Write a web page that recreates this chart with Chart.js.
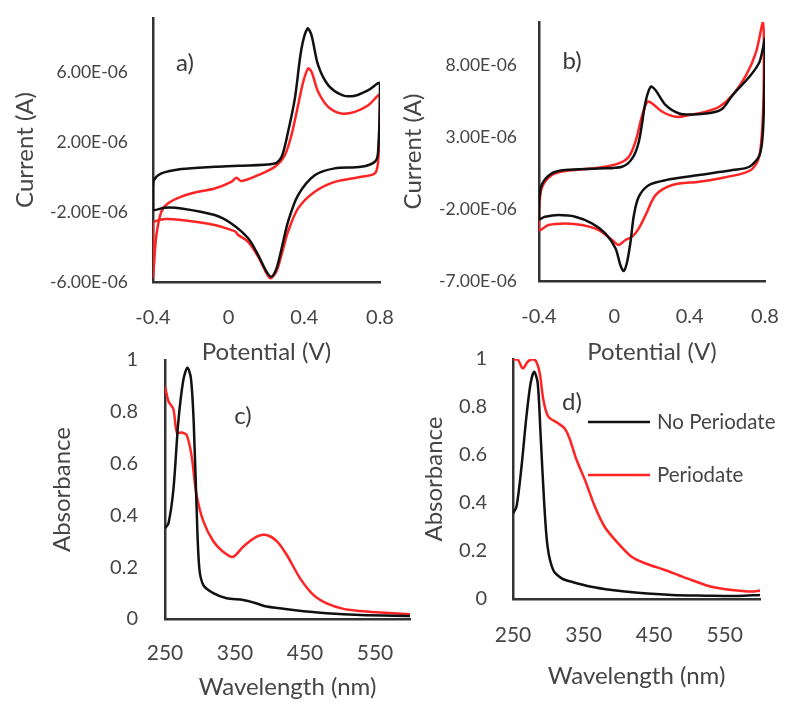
<!DOCTYPE html>
<html><head><meta charset="utf-8">
<script src="https://cdn.jsdelivr.net/npm/chart.js@4.4.1/dist/chart.umd.min.js"></script>
<style>
html,body{margin:0;padding:0;background:#fff;}
#wrap{position:relative;width:800px;height:718px;overflow:hidden;background:#fff;}
canvas{position:absolute;}
</style></head><body>
<div id="wrap">
<canvas id="ca" width="400" height="370" style="left:0;top:0"></canvas>
<canvas id="cb" width="400" height="370" style="left:400px;top:0"></canvas>
<canvas id="cc" width="420" height="378" style="left:0;top:340px"></canvas>
<canvas id="cd" width="400" height="378" style="left:400px;top:340px"></canvas>
</div>
<script>
// ---------------- DATA ----------------
const panelLabels = ['a)', 'b)', 'c)', 'd)'];
const seriesNames = ['No Periodate', 'Periodate'];
const cvXTicks = [-0.4, 0, 0.4, 0.8];
const aYTicks_uA = [-6, -2, 2, 6];
const bYTicks_uA = [-7, -2, 3, 8];
const uvXTicks = [250, 350, 450, 550];
const uvYTicks = [0, 0.2, 0.4, 0.6, 0.8, 1];

// Panel a (potential V, current in microamps)
const aBlackPot = [-0.4,-0.395,-0.356,-0.25,-0.074,0.05,0.244,0.28,0.314,0.35,0.385,0.417,0.438,0.473,0.526,0.6,0.667,0.738,0.8,
  0.79,0.773,0.70,0.56,0.455,0.367,0.314,0.28,0.253,0.226,0.2,0.156,0.103,0.014,-0.074,-0.25,-0.338,-0.4,-0.4];
const aBlackCur = [-0.55,-0.17,0.21,0.46,0.59,0.65,0.78,1.16,2.59,4.5,7.35,8.5,8.11,6.4,5.26,4.69,4.65,4.97,5.35,
  1.45,0.88,0.59,0.5,0.11,-1.03,-2.55,-4.08,-5.22,-5.7,-5.41,-4.46,-3.5,-2.65,-2.17,-1.79,-1.75,-1.85,-0.55];
const aRedPot = [-0.4,-0.395,-0.382,-0.356,-0.32,-0.25,-0.162,-0.074,0.014,0.041,0.067,0.156,0.244,0.297,0.332,0.367,0.394,0.42,0.438,0.473,0.526,0.596,0.667,0.738,0.8,
  0.796,0.79,0.773,0.702,0.561,0.455,0.367,0.314,0.279,0.252,0.221,0.2,0.156,0.103,0.05,0.036,0.014,-0.074,-0.25,-0.338,-0.4,-0.4];
const aRedCur = [-5.79,-5.03,-3.31,-1.98,-1.5,-1.12,-0.84,-0.65,-0.27,-0.04,-0.23,0.11,0.59,1.26,2.4,4.11,5.45,6.21,6.02,4.88,4.02,3.64,3.73,4.11,4.69,
  2.59,0.88,0.21,0.02,-0.27,-0.84,-1.79,-3.12,-4.46,-5.41,-5.79,-5.5,-4.55,-3.7,-3.31,-3.12,-3.03,-2.74,-2.46,-2.4,-2.65,-5.79];

// Panel b
const bBlackPot = [-0.4,-0.386,-0.332,-0.261,-0.083,0.041,0.095,0.13,0.166,0.193,0.219,0.273,0.344,0.415,0.522,0.575,0.628,0.717,0.771,0.801,
  0.797,0.789,0.771,0.717,0.628,0.45,0.273,0.184,0.13,0.104,0.086,0.068,0.05,0.032,0.006,-0.048,-0.119,-0.208,-0.297,-0.368,-0.4,-0.4];
const bBlackCur = [-1.49,-0.33,0.48,0.71,0.82,0.94,1.52,2.68,5.45,6.5,6.26,5.22,4.64,4.57,4.71,4.99,5.92,7.19,8.23,9.85,
  6.84,3.37,1.75,0.94,0.71,0.36,0.01,-0.33,-1.14,-2.42,-4.27,-5.66,-6.31,-5.89,-4.73,-3.69,-2.99,-2.53,-2.42,-2.53,-2.69,-1.49];
const bRedPot = [-0.4,-0.386,-0.332,-0.261,-0.083,0.023,0.077,0.112,0.148,0.175,0.201,0.255,0.326,0.397,0.486,0.557,0.628,0.7,0.753,0.789,
  0.794,0.789,0.771,0.735,0.682,0.557,0.45,0.308,0.219,0.166,0.13,0.095,0.059,0.023,-0.012,-0.083,-0.172,-0.261,-0.35,-0.4,-0.4];
const bRedCur = [-2.19,-0.56,0.36,0.64,0.87,1.17,1.63,2.68,4.53,5.45,5.34,4.76,4.41,4.53,4.76,5.11,5.92,7.31,8.93,10.96,
  8.0,4.53,1.75,0.82,0.48,0.13,-0.1,-0.33,-1.03,-2.42,-3.34,-3.92,-4.15,-4.5,-4.15,-3.46,-3.11,-3.0,-3.11,-3.46,-2.19];

// Panel c (wavelength nm, absorbance)
const cBlackNm  = [250,255,262,269,276,282,287,291,295,299,305,319,338,362,381,395,433,481,529,600];
const cBlackAbs = [0.35,0.37,0.5,0.76,0.92,0.97,0.93,0.76,0.44,0.196,0.13,0.1,0.08,0.073,0.06,0.048,0.035,0.022,0.015,0.012];
const cRedNm  = [250,255,262,267,274,281,288,295,305,319,333,347,362,381,395,410,424,443,462,481,505,529,552,576,600];
const cRedAbs = [0.90,0.84,0.81,0.72,0.72,0.71,0.63,0.48,0.376,0.30,0.26,0.24,0.28,0.318,0.324,0.30,0.247,0.157,0.093,0.06,0.039,0.031,0.026,0.022,0.018];

// Panel d
const dBlackNm  = [250,255,262,269,275,280,285,289,294,299,307,319,333,361,390,427,475,522,569,600];
const dBlackAbs = [0.357,0.385,0.55,0.76,0.9,0.947,0.9,0.69,0.41,0.218,0.121,0.086,0.072,0.051,0.0375,0.026,0.0167,0.014,0.0125,0.0167];
const dRedNm  = [250,257,264,271,278,283,288,293,300,314,323,330,340,352,366,380,399,418,437,465,484,503,531,560,588,600];
const dRedAbs = [1.0,0.996,0.961,0.989,0.999,0.989,0.94,0.83,0.76,0.732,0.711,0.67,0.58,0.496,0.385,0.30,0.232,0.176,0.149,0.121,0.10,0.079,0.051,0.0375,0.031,0.035];

// ---------------- RENDERING ----------------
const FONT = 'Lato';
const TXT = '#454545';
const AXIS = '#333333';
const BLACK = '#111111';
const RED = '#ff2424';
const MICRO = 1e-6;
Chart.defaults.font.family = FONT;

function expFmt(v) {
  const s = Number(v).toExponential(2).split('e');
  const n = parseInt(s[1], 10);
  return s[0] + 'E' + (n < 0 ? '-' : '+') + String(Math.abs(n)).padStart(2, '0');
}
function cvFmt(v) { return Math.abs(v) < 1e-9 ? '0' : Number(v).toFixed(1); }
function plainFmt(v) { return String(Math.round(v * 1000) / 1000); }

const overlayPlugin = {
  id: 'overlay',
  afterDraw(chart, args, opts) {
    const ctx = chart.ctx;
    ctx.save();
    if (opts.label) {
      ctx.font = '24px ' + FONT;
      ctx.fillStyle = '#3a3a3a';
      ctx.textAlign = 'center';
      ctx.textBaseline = 'middle';
      ctx.fillText(opts.label.text, opts.label.x, opts.label.y);
    }
    if (opts.legend) {
      const L = opts.legend;
      chart.data.datasets.forEach((ds, i) => {
        const y = L.ys[i];
        ctx.strokeStyle = ds.borderColor;
        ctx.lineWidth = 2.5;
        ctx.beginPath(); ctx.moveTo(L.x1, y); ctx.lineTo(L.x2, y); ctx.stroke();
        ctx.font = '20.5px ' + FONT;
        ctx.fillStyle = TXT;
        ctx.textAlign = 'left';
        ctx.textBaseline = 'middle';
        ctx.fillText(ds.label, L.tx, y);
      });
    }
    ctx.restore();
  }
};

function series(label, xs, ys, color, mul) {
  return {
    label: label,
    data: xs.map((x, i) => ({x: x, y: ys[i] * (mul || 1)})),
    showLine: true, borderColor: color, backgroundColor: color,
    borderWidth: 2.5, pointRadius: 0, pointHoverRadius: 0, tension: 0.3, fill: false
  };
}

function build(id, o) {
  return new Chart(document.getElementById(id), {
    type: 'scatter',
    data: {datasets: o.datasets},
    options: {
      responsive: false, animation: false, devicePixelRatio: 1, events: [],
      layout: {padding: o.pad},
      plugins: {legend: {display: false}, tooltip: {enabled: false}, overlay: o.overlay},
      scales: {
        x: {
          type: 'linear', min: o.xMin, max: o.xMax,
          grid: {display: false, drawTicks: false},
          border: {display: true, color: AXIS, width: 2.5},
          ticks: {padding: o.xTickPad, color: TXT, font: {family: FONT, size: o.xTickSize}, callback: o.xFmt, maxRotation: 0, autoSkip: false},
          afterBuildTicks: s => { s.ticks = o.xTicks.map(v => ({value: v})); },
          afterFit: s => { s.height = o.xH; s.paddingLeft = 0; s.paddingRight = 0; s.paddingTop = 0; s.paddingBottom = 0; },
          title: {display: true, text: o.xTitle, color: TXT, font: {family: FONT, size: 24, lineHeight: 1}, padding: {top: 0, bottom: o.xTitlePad}}
        },
        y: {
          type: 'linear', min: o.yMin, max: o.yMax,
          grid: {display: false, drawTicks: false},
          border: {display: true, color: AXIS, width: 2.5},
          ticks: {padding: o.yTickPad, color: TXT, font: {family: FONT, size: o.yTickSize}, callback: o.yFmt, autoSkip: false},
          afterBuildTicks: s => { s.ticks = o.yTicks.map(v => ({value: v})); },
          afterFit: s => { s.width = o.yW; s.paddingLeft = 0; s.paddingRight = 0; s.paddingTop = 0; s.paddingBottom = 0; },
          title: {display: true, text: o.yTitle, color: TXT, font: {family: FONT, size: 24, lineHeight: 1}, padding: {top: o.yTitlePad, bottom: 0}}
        }
      }
    },
    plugins: [overlayPlugin]
  });
}

// Panel a
build('ca', {
  datasets: [series(seriesNames[0], aBlackPot, aBlackCur, BLACK, MICRO), series(seriesNames[1], aRedPot, aRedCur, RED, MICRO)],
  pad: {left: 0, top: 18, right: 20, bottom: 0},
  xMin: -0.4, xMax: 0.8, xTicks: cvXTicks, xFmt: cvFmt, xTickSize: 20, xTickPad: 24, xH: 88,
  xTitle: 'Potential (V)', xTitlePad: 6,
  yMin: -6e-6, yMax: 9.1e-6, yTicks: aYTicks_uA.map(v => v * MICRO), yFmt: expFmt, yTickSize: 17.5, yTickPad: 25, yW: 153,
  yTitle: 'Current (A)', yTitlePad: 13,
  overlay: {label: {text: panelLabels[0], x: 185, y: 63}}
});
// Panel b
build('cb', {
  datasets: [series(seriesNames[0], bBlackPot, bBlackCur, BLACK, MICRO), series(seriesNames[1], bRedPot, bRedCur, RED, MICRO)],
  pad: {left: 0, top: 22, right: 35, bottom: 0},
  xMin: -0.4, xMax: 0.8, xTicks: cvXTicks, xFmt: cvFmt, xTickSize: 20, xTickPad: 24, xH: 89,
  xTitle: 'Potential (V)', xTitlePad: 6,
  yMin: -7e-6, yMax: 11e-6, yTicks: bYTicks_uA.map(v => v * MICRO), yFmt: expFmt, yTickSize: 17.5, yTickPad: 22, yW: 139,
  yTitle: 'Current (A)', yTitlePad: 1,
  overlay: {label: {text: panelLabels[1], x: 172, y: 61}}
});
// Panel c
build('cc', {
  datasets: [series(seriesNames[0], cBlackNm, cBlackAbs, BLACK), series(seriesNames[1], cRedNm, cRedAbs, RED)],
  pad: {left: 0, top: 20, right: 10, bottom: 0},
  xMin: 250, xMax: 600, xTicks: uvXTicks, xFmt: plainFmt, xTickSize: 21, xTickPad: 21.4, xH: 99,
  xTitle: 'Wavelength (nm)', xTitlePad: 19,
  yMin: 0, yMax: 1, yTicks: uvYTicks, yFmt: plainFmt, yTickSize: 20, yTickPad: 27, yW: 165,
  yTitle: 'Absorbance', yTitlePad: 50,
  overlay: {label: {text: panelLabels[2], x: 243, y: 76}}
});
// Panel d
build('cd', {
  datasets: [series(seriesNames[0], dBlackNm, dBlackAbs, BLACK), series(seriesNames[1], dRedNm, dRedAbs, RED)],
  pad: {left: 0, top: 19, right: 40, bottom: 0},
  xMin: 250, xMax: 600, xTicks: uvXTicks, xFmt: plainFmt, xTickSize: 21, xTickPad: 23.4, xH: 119,
  xTitle: 'Wavelength (nm)', xTitlePad: 30,
  yMin: 0, yMax: 1, yTicks: uvYTicks, yFmt: plainFmt, yTickSize: 20, yTickPad: 26, yW: 113,
  yTitle: 'Absorbance', yTitlePad: 22,
  overlay: {label: {text: panelLabels[3], x: 172, y: 62}, legend: {x1: 188, x2: 250, tx: 257, ys: [82, 135]}}
});
</script>
</body></html>
